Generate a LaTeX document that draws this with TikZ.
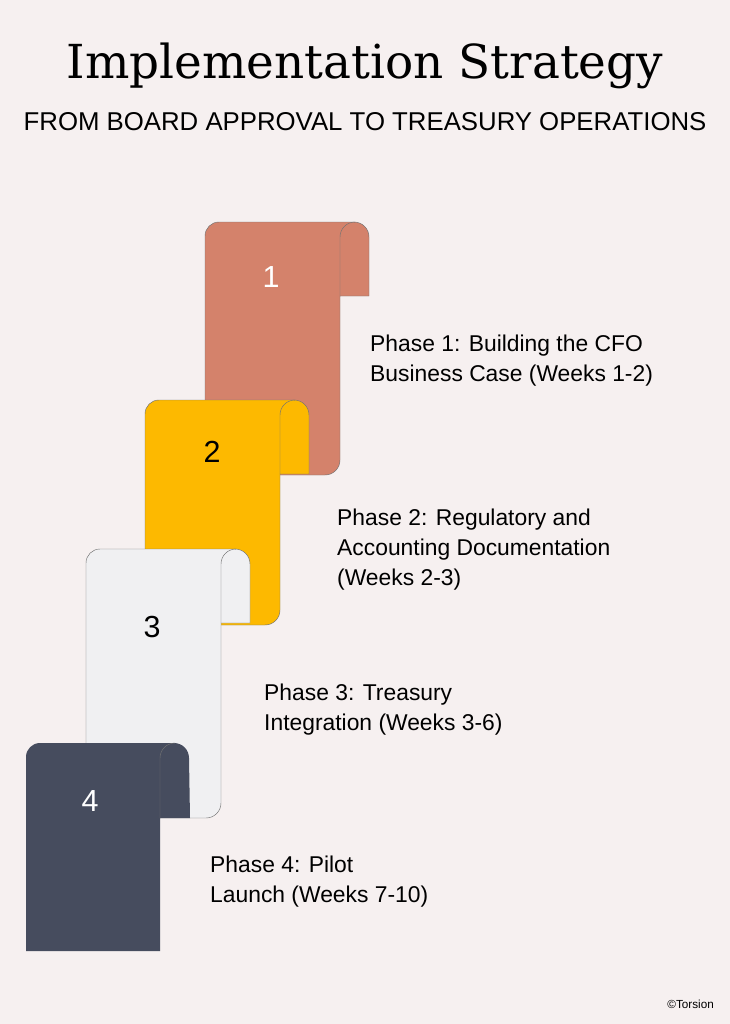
\documentclass[tikz,border=0pt]{standalone}
\usepackage{fontspec}
\setmainfont{Liberation Sans}
\newfontfamily\titlefont{DejaVu Serif}
\definecolor{bgcol}{HTML}{F6F0F0}
\definecolor{phaseA}{HTML}{D4826B}
\definecolor{phaseB}{HTML}{FDB900}
\definecolor{phaseC}{HTML}{F0F0F2}
\definecolor{phaseD}{HTML}{464C5E}
\tikzset{
  scroll/.style={draw=black!55,line width=0.4pt},
  phaselabel/.style={anchor=north west,align=left,font=\fontsize{19.5}{25.5}\selectfont,inner sep=0pt},
  phasenum/.style={font=\fontsize{26}{26}\selectfont}
}
% scroll: left, top, bottom, colour
\newcommand{\drawscroll}[4]{%
  \pgfmathsetmacro{\rx}{#1+135}
  \fill[#4] (#1,#3) -- (#1,#2+14) arc[start angle=180,end angle=270,radius=14]
    -- (\rx+14,#2) arc[start angle=270,end angle=360,radius=15] -- (\rx+29,#2+74)
    -- (\rx,#2+74) -- (\rx,#3-15) arc[start angle=0,end angle=90,radius=15] -- cycle;
  \draw[scroll] (#1,#3) -- (#1,#2+14) arc[start angle=180,end angle=270,radius=14]
    -- (\rx+14,#2) arc[start angle=270,end angle=360,radius=15] -- (\rx+29,#2+74)
    -- (\rx,#2+74) -- (\rx,#3-15) arc[start angle=0,end angle=90,radius=15] -- (#1,#3);
  \draw[scroll] (\rx,#2+74) -- (\rx,#2+15) arc[start angle=180,end angle=270,radius=15];
}
\begin{document}
\begin{tikzpicture}[x=0.03cm,y=-0.03cm]
\fill[bgcol] (0,0) rectangle (730,1024);
\useasboundingbox (0,0) rectangle (730,1024);
\node (title) at (365,66) {\titlefont\fontsize{40}{40}\selectfont Implementation Strategy};
\node (subtitle) at (365,122) {\fontsize{22}{22}\selectfont FROM BOARD APPROVAL TO TREASURY OPERATIONS};
\drawscroll{205}{222}{475}{phaseA}
\drawscroll{145}{400}{625}{phaseB}
\drawscroll{86}{549}{818}{phaseC}
% last scroll has a flat foot
\fill[phaseD] (26,951) -- (26,757) arc[start angle=180,end angle=270,radius=14]
  -- (174,743) arc[start angle=270,end angle=360,radius=15] -- (190,818) -- (160,818) -- (160,951) -- cycle;
\draw[scroll] (160,818) -- (160,758) arc[start angle=180,end angle=270,radius=15];
\node[phasenum,text=white] (n1) at (271,277) {1};
\node[phasenum] (n2) at (212,452) {2};
\node[phasenum] (n3) at (152,627) {3};
\node[phasenum,text=white] (n4) at (90,801) {4};
\node[phaselabel] (p1) at (370,335) {Phase 1: Building the CFO\\Business Case (Weeks 1-2)};
\node[phaselabel] (p2) at (337,509) {Phase 2: Regulatory and\\Accounting Documentation\\(Weeks 2-3)};
\node[phaselabel] (p3) at (264,684) {Phase 3: Treasury\\Integration (Weeks 3-6)};
\node[phaselabel] (p4) at (210,856) {Phase 4: Pilot\\Launch (Weeks 7-10)};
\node[anchor=east,font=\fontsize{10}{10}\selectfont] (credit) at (718,1004) {©Torsion};
\end{tikzpicture}
\end{document}
